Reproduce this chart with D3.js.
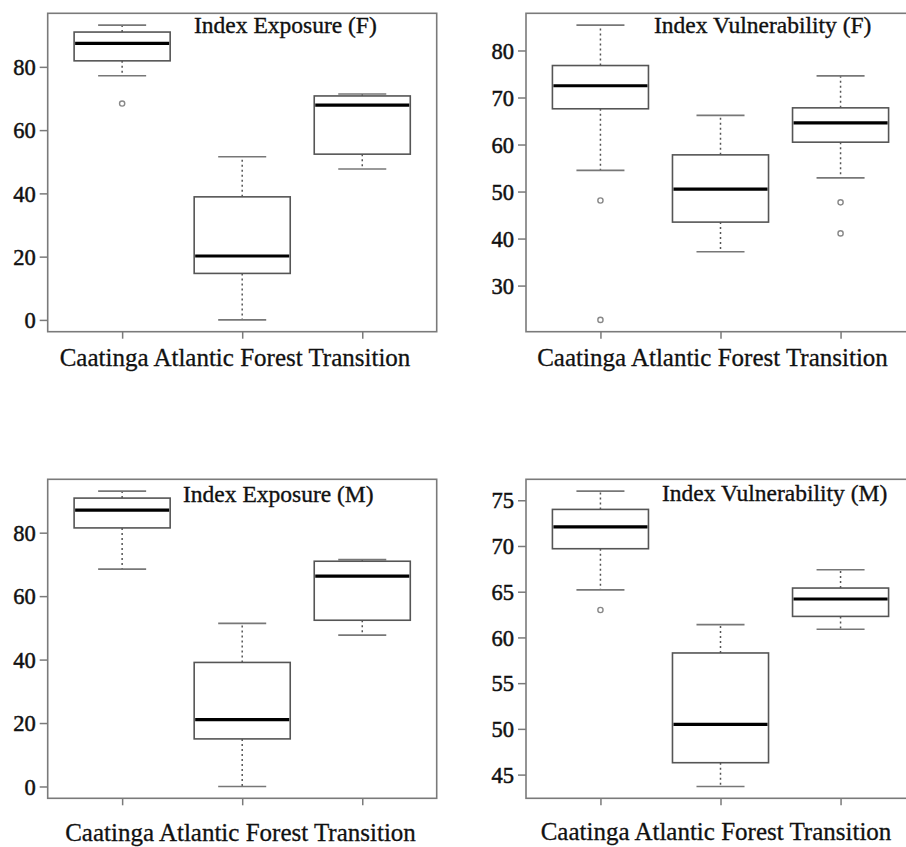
<!DOCTYPE html>
<html>
<head>
<meta charset="utf-8">
<script src="https://cdn.jsdelivr.net/npm/d3@7"></script>
<style>
  html, body { margin: 0; padding: 0; background: #fff; }
  svg { display: block; }
  svg text { font-family: "Liberation Serif", "Times New Roman", serif; }
</style>
</head>
<body>
<svg id="chart" width="906" height="847"></svg>
<script>
// ---------- data ----------
const categories = ["Caatinga", "Atlantic Forest", "Transition"];
const xAxisLabel = "Caatinga Atlantic Forest Transition";

const panelTitles = ["Index Exposure (F)", "Index Vulnerability (F)", "Index Exposure (M)", "Index Vulnerability (M)"];

// per category: [lower whisker, Q1, median, Q3, upper whisker]
const exposureF = [
  [77.2, 81.9, 87.4, 91.0, 93.2],
  [0.0, 14.7, 20.2, 38.9, 51.6],
  [47.7, 52.4, 67.9, 70.8, 71.4]
];
const exposureFOutliers = [[68.4], [], []];

const vulnerabilityF = [
  [54.5, 67.6, 72.5, 76.8, 85.4],
  [37.2, 43.5, 50.5, 57.8, 66.2],
  [52.9, 60.5, 64.6, 67.8, 74.6]
];
const vulnerabilityFOutliers = [[48.1, 22.7], [], [47.7, 41.1]];

const exposureM = [
  [68.5, 81.5, 87.1, 90.9, 93.1],
  [0.0, 15.0, 21.1, 39.1, 51.4],
  [47.7, 52.4, 66.3, 71.0, 71.5]
];
const exposureMOutliers = [[], [], []];

const vulnerabilityM = [
  [65.2, 69.7, 72.1, 74.0, 76.0],
  [43.7, 46.3, 50.5, 58.3, 61.4],
  [60.9, 62.3, 64.2, 65.4, 67.4]
];
const vulnerabilityMOutliers = [[63.0], [], []];

const ticksExposureF = [0, 20, 40, 60, 80];
const ticksVulnerabilityF = [30, 40, 50, 60, 70, 80];
const ticksExposureM = [0, 20, 40, 60, 80];
const ticksVulnerabilityM = [45, 50, 55, 60, 65, 70, 75];

// ---------- layout ----------
const panels = [
  { title: panelTitles[0], stats: exposureF, out: exposureFOutliers, ticks: ticksExposureF,
    left: 47.7, right: 436.7, top: 13.3, bottom: 331.7, titleX: 194, titleY: 33, labelX: 235, labelY: 366 },
  { title: panelTitles[1], stats: vulnerabilityF, out: vulnerabilityFOutliers, ticks: ticksVulnerabilityF,
    left: 526, right: 915, top: 13.3, bottom: 331.7, titleX: 654, titleY: 33, labelX: 712.5, labelY: 366 },
  { title: panelTitles[2], stats: exposureM, out: exposureMOutliers, ticks: ticksExposureM,
    left: 47.7, right: 436.7, top: 479.3, bottom: 798.3, titleX: 183, titleY: 501.5, labelX: 240.5, labelY: 841 },
  { title: panelTitles[3], stats: vulnerabilityM, out: vulnerabilityMOutliers, ticks: ticksVulnerabilityM,
    left: 526, right: 915, top: 479.3, bottom: 798.3, titleX: 662, titleY: 500.5, labelX: 716, labelY: 840 }
];

const svg = d3.select("#chart");
const FONT = "'Liberation Serif', 'Times New Roman', serif";
const FRAME = "#7a7a7a";
const BOXC = "#555";

panels.forEach(p => {
  const g = svg.append("g");
  // y domain as R: data range extended by 4%
  const all = p.stats.flat().concat(p.out.flat());
  const lo = d3.min(all), hi = d3.max(all);
  const pad = (hi - lo) * 0.04;
  const y = d3.scaleLinear().domain([lo - pad, hi + pad]).range([p.bottom, p.top]);
  const x = d3.scaleLinear().domain([0.38, 3.62]).range([p.left, p.right]);
  const bw = 0.8;

  // frame
  g.append("rect")
    .attr("x", p.left).attr("y", p.top)
    .attr("width", p.right - p.left).attr("height", p.bottom - p.top)
    .attr("fill", "none").attr("stroke", FRAME).attr("stroke-width", 1.6);

  // y axis
  const yAxis = d3.axisLeft(y).tickValues(p.ticks).tickSize(8).tickPadding(4).tickFormat(d3.format("d"));
  const ya = g.append("g").attr("transform", `translate(${p.left},0)`).call(yAxis);
  ya.attr("font-family", FONT);
  ya.select(".domain").remove();
  ya.selectAll(".tick line").attr("stroke", FRAME).attr("stroke-width", 1.5);
  ya.selectAll(".tick text")
    .style("font-family", FONT).style("font-size", "22.5px")
    .attr("fill", "#111").attr("stroke", "#111").attr("stroke-width", 0.5).attr("dy", "0.34em");

  // x axis ticks (no labels)
  const xAxis = d3.axisBottom(x).tickValues([1, 2, 3]).tickSize(7).tickFormat("");
  const xa = g.append("g").attr("transform", `translate(0,${p.bottom})`).call(xAxis);
  xa.select(".domain").remove();
  xa.selectAll(".tick line").attr("stroke", FRAME).attr("stroke-width", 1.5);

  // boxes
  p.stats.forEach((s, i) => {
    const cx = x(i + 1);
    const half = x(i + 1 + bw / 2) - cx;
    const [wl, q1, med, q3, wh] = s;
    const bg = g.append("g");
    // whiskers dotted
    bg.append("line").attr("x1", cx).attr("x2", cx).attr("y1", y(q3)).attr("y2", y(wh))
      .attr("stroke", "#555").attr("stroke-width", 1.5).attr("stroke-dasharray", "2,3");
    bg.append("line").attr("x1", cx).attr("x2", cx).attr("y1", y(q1)).attr("y2", y(wl))
      .attr("stroke", "#555").attr("stroke-width", 1.5).attr("stroke-dasharray", "2,3");
    // caps
    [wl, wh].forEach(v => {
      bg.append("line").attr("x1", cx - half / 2).attr("x2", cx + half / 2)
        .attr("y1", y(v)).attr("y2", y(v))
        .attr("stroke", "#777").attr("stroke-width", 1.6);
    });
    // box
    bg.append("rect").attr("x", cx - half).attr("y", y(q3))
      .attr("width", 2 * half).attr("height", y(q1) - y(q3))
      .attr("fill", "#fff").attr("stroke", BOXC).attr("stroke-width", 1.6);
    // median
    bg.append("line").attr("x1", cx - half + 1).attr("x2", cx + half - 1)
      .attr("y1", y(med)).attr("y2", y(med))
      .attr("stroke", "#000").attr("stroke-width", 3.2);
    // outliers
    p.out[i].forEach(v => {
      bg.append("circle").attr("cx", cx).attr("cy", y(v)).attr("r", 2.6)
        .attr("fill", "none").attr("stroke", "#888").attr("stroke-width", 1.4);
    });
  });

  // title
  g.append("text").attr("x", p.titleX).attr("y", p.titleY)
    .style("font-family", FONT).style("font-size", "23.5px")
    .attr("fill", "#111").attr("stroke", "#111").attr("stroke-width", 0.35)
    .text(p.title);

  // x label
  g.append("text").attr("x", p.labelX).attr("y", p.labelY)
    .attr("text-anchor", "middle")
    .style("font-family", FONT).style("font-size", "25px")
    .attr("fill", "#111").attr("stroke", "#111").attr("stroke-width", 0.3)
    .text(xAxisLabel);
});
</script>
</body>
</html>
